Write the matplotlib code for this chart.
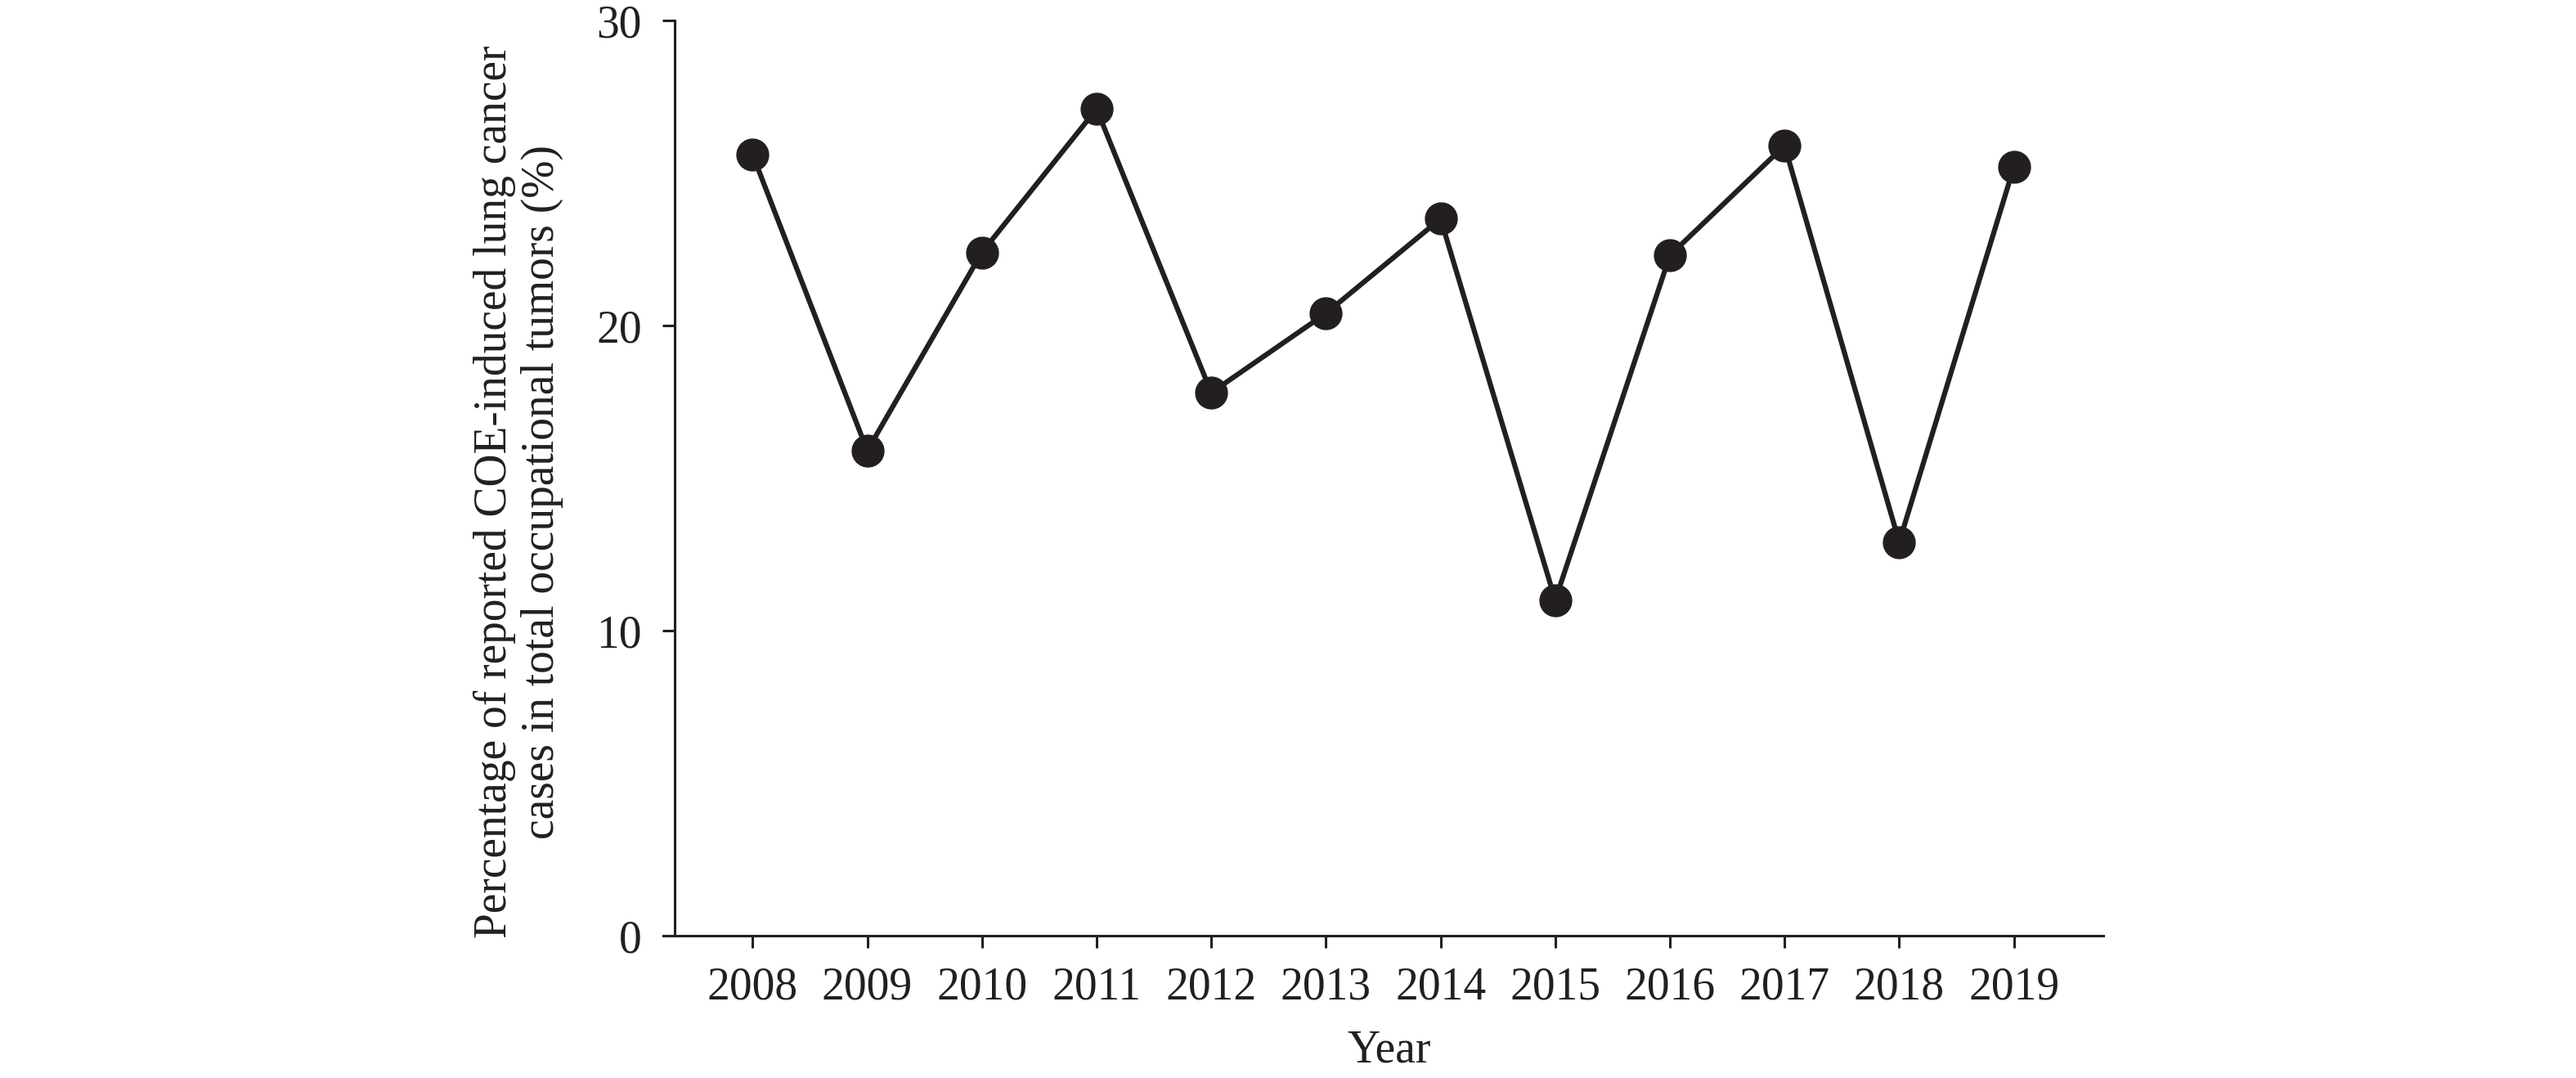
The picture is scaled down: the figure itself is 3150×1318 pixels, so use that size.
import matplotlib
matplotlib.use("Agg")
import matplotlib.pyplot as plt

# data
years = [2008, 2009, 2010, 2011, 2012, 2013, 2014, 2015, 2016, 2017, 2018, 2019]
percent = [25.6, 15.9, 22.4, 27.1, 17.8, 20.4, 23.5, 11.0, 22.3, 25.9, 12.9, 25.2]
yticks = [0, 10, 20, 30]

ink = "#231f20"
plt.rcParams["font.family"] = ["Liberation Serif", "DejaVu Serif"]

fig = plt.figure(figsize=(31.5, 13.18), dpi=100)
ax = fig.add_axes([0.2619, 0.132, 0.8165 - 0.2619, 0.981 - 0.132])

ax.plot(years, percent, color=ink, linewidth=4.5, marker="o",
        markersize=28, markerfacecolor=ink, markeredgecolor=ink,
        solid_joinstyle="miter")

ax.set_xlim(2007.32, 2019.78)
ax.set_ylim(0, 30)
ax.set_xticks(years)
ax.set_yticks(yticks)

# spines: only left and bottom, bottom slightly past the y axis
for s in ["top", "right"]:
    ax.spines[s].set_visible(False)
for s in ["left", "bottom"]:
    ax.spines[s].set_linewidth(2.2)
    ax.spines[s].set_color(ink)
ax.spines["bottom"].set_bounds(2007.22, 2019.78)

ax.tick_params(axis="both", direction="out", length=11, width=2.2,
               colors=ink, labelsize=40)
ax.tick_params(axis="x", pad=16)
ax.tick_params(axis="y", pad=18)

ax.set_xlabel("Year", fontsize=40, color=ink, labelpad=18)
ax.set_ylabel("Percentage of reported COE-induced lung cancer\n"
              "cases in total occupational tumors (%)",
              fontsize=40, color=ink, labelpad=29, linespacing=1.15)
ax.yaxis.label.set_y(0.485)

fig.savefig("out.png", dpi=100, facecolor="white")
